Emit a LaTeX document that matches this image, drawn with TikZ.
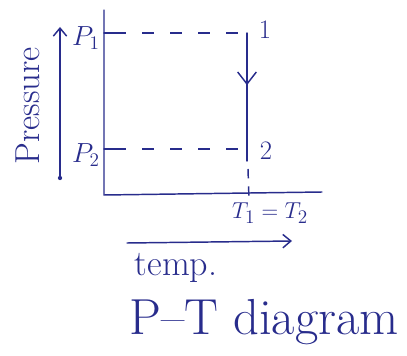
\documentclass[tikz,border=0pt]{standalone}
\usepackage{xcolor}
\definecolor{inkblue}{RGB}{40,44,140}
\usetikzlibrary{arrows.meta,positioning,decorations.markings}

\begin{document}
\begin{tikzpicture}[x=0.75pt,y=-0.75pt,
  inkline/.style={draw=inkblue,line width=1.1pt,line cap=round},
  inkdash/.style={draw=inkblue,line width=1.1pt,dash pattern=on 9pt off 12pt},
  inktext/.style={text=inkblue,inner sep=1pt},
  midarrow/.style={postaction={decorate},decoration={markings,
    mark=at position 0.45 with {\arrow{Straight Barb[length=9pt,width=14pt]}}}}
]
  \useasboundingbox (0,0) rectangle (407,356);

  % Axes
  \coordinate (origin) at (104,195);
  \coordinate (ytop) at (104,10);
  \coordinate (xend) at (322,192);
  \draw[inkline] (ytop) -- (origin) -- (xend);

  % States 1 and 2
  \coordinate (p1) at (104,33);
  \coordinate (p2) at (104,149);
  \coordinate (s1) at (247,33);
  \coordinate (s2) at (247,149);
  \coordinate (tfoot) at (249,199);
  \draw[inkline] (p1) -- ++(10,0);
  \draw[inkline] (p2) -- ++(10,0);
  \draw[inkdash] (p1) ++(10,0) -- (s1);
  \draw[inkdash] (p2) ++(10,0) -- (s2);
  \draw[inkline,midarrow] (s1) -- (s2);
  \draw[inkline] (s2) -- ++(0,12);
  \draw[inkdash,dash pattern=on 7pt off 6pt] (s2) ++(1,20) -- (tfoot);

  \node[inktext,font=\fontsize{20}{20}\selectfont] (n1) at (265,30) {1};
  \node[inktext,font=\fontsize{20}{20}\selectfont] (n2) at (266,151) {2};
  \node[inktext,font=\fontsize{21}{21}\selectfont] (lp1) at (86,38) {$P_1$};
  \node[inktext,font=\fontsize{21}{21}\selectfont] (lp2) at (86,155) {$P_2$};

  % Pressure axis label
  \node[inktext,font=\fontsize{26}{26}\selectfont,rotate=90] (press) at (28,106) {Pressure};
  \coordinate (pbot) at (60,178);
  \coordinate (ptop) at (60,27);
  \fill[inkblue] (pbot) circle (1.6pt);
  \draw[inkline,-{Straight Barb[length=6pt,width=10pt]}] (pbot) -- (ptop);

  % Temperature axis label
  \node[inktext,font=\fontsize{19}{19}\selectfont] (tt) at (270,213) {$T_1 = T_2$};
  \coordinate (tleft) at (127,243);
  \coordinate (tright) at (292,241);
  \draw[inkline,-{Straight Barb[length=6pt,width=10pt]}] (tleft) -- (tright);
  \node[inktext,font=\fontsize{27}{27}\selectfont] (temp) at (176,268) {temp.};

  % Title
  \node[inktext,font=\fontsize{38}{38}\selectfont] (title) at (264,322) {P--T diagram};
\end{tikzpicture}
\end{document}
